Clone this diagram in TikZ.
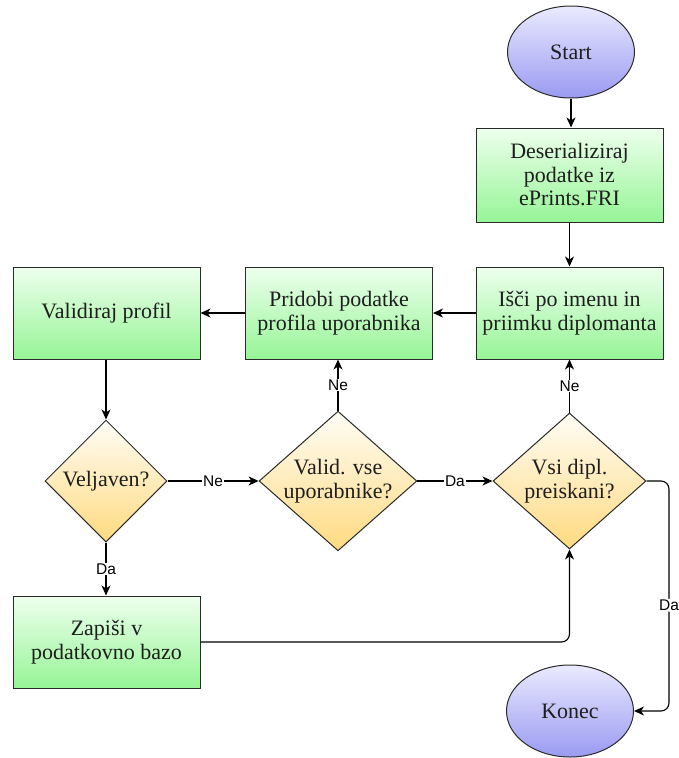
\documentclass[tikz,border=0pt]{standalone}
\usepackage{fontspec}
\setmainfont{Liberation Serif}
\newfontfamily\lblfont{Liberation Sans}
\usetikzlibrary{shapes.geometric,arrows.meta}
\definecolor{gtop}{HTML}{EEFFEE}
\definecolor{gbot}{HTML}{96F596}
\definecolor{btop}{HTML}{EAEAFF}
\definecolor{bbot}{HTML}{9A9AF2}
\definecolor{ytop}{HTML}{FFFDF6}
\definecolor{ybot}{HTML}{FFDA80}
\definecolor{edge}{HTML}{2A2A2A}
\definecolor{txt}{HTML}{1E1E1E}
\tikzset{
  every node/.style={text=txt},
  base/.style={draw=edge, line width=1pt, align=center, inner sep=0pt,
    font=\fontsize{22}{23.5}\selectfont},
  procbox/.style={base, rectangle, minimum width=187pt, minimum height=92pt, top color=gtop, bottom color=gbot},
  termel/.style={base, ellipse, minimum width=127pt, minimum height=92pt, top color=btop, bottom color=bbot},
  decis/.style={base, diamond, top color=ytop, bottom color=ybot},
  arr/.style={draw=black, line width=1.1pt, -{Stealth[length=10pt,width=9pt,inset=3pt]}},
  lbl/.style={fill=white, inner sep=1pt, font=\lblfont\fontsize{15.5}{15.5}\selectfont, text=black}
}
\begin{document}
\begin{tikzpicture}[x=1pt,y=-1pt]
\useasboundingbox (0,0) rectangle (678,758);
\node[termel] (start) at (571,52) {Start};
\node[procbox, minimum height=94pt] (des) at (569.5,175) {Deserializiraj\\podatke iz\\ePrints.FRI};
\node[procbox] (isci) at (569.5,313) {Išči po imenu in\\priimku diplomanta};
\node[procbox] (prid) at (339,313) {Pridobi podatke\\profila uporabnika};
\node[procbox] (valp) at (106.5,313) {Validiraj profil};
\node[decis, minimum width=122pt, minimum height=122pt] (velj) at (106,481) {Veljaven?};
\node[decis, minimum width=154pt, minimum height=136pt, aspect=1.13] (vall) at (338,481) {Valid. vse\\uporabnike?};
\node[decis, minimum width=153pt, minimum height=136pt, aspect=1.13] (vsi) at (569.5,481) {Vsi dipl.\\preiskani?};
\node[procbox] (zap) at (106.5,642) {Zapiši v\\podatkovno bazo};
\node[termel] (konec) at (570,711) {Konec};
\coordinate (rt) at (669,481);

\draw[arr] (start.south) -- (start.south |- des.north);
\draw[arr] (des) -- (isci);
\draw[arr] (isci) -- (prid);
\draw[arr] (prid) -- (valp);
\draw[arr] (valp.south -| velj.north) -- (velj.north);
\draw[arr] (velj.east) -- node[lbl]{Ne} (vall.west);
\draw[arr] (vall.east) -- node[lbl]{Da} (vsi.west);
\draw[arr] (vall.north) -- node[lbl]{Ne} (vall.north |- prid.south);
\draw[arr] (vsi.north) -- node[lbl]{Ne} (vsi.north |- isci.south);
\draw[arr] (velj.south) -- node[lbl]{Da} (velj.south |- zap.north);
\draw[arr, rounded corners=8pt] (zap.east) -| (vsi.south);
\draw[arr, rounded corners=8pt] (vsi.east) -- (rt) |- node[lbl, pos=0.27]{Da} (konec.east);
\end{tikzpicture}
\end{document}
